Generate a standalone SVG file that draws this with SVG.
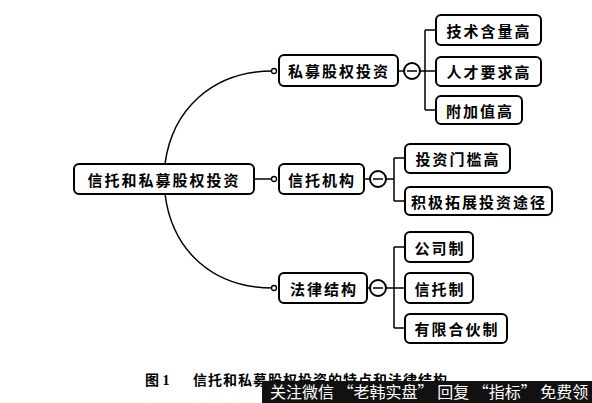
<svg xmlns="http://www.w3.org/2000/svg" width="592" height="403" viewBox="0 0 592 403">
<style>
.box{fill:#fff;stroke:#000;stroke-width:2}
.t{font-family:"Noto Sans CJK SC","Noto Sans CJK JP",sans-serif;font-size:15px;font-weight:bold;fill:#000;letter-spacing:2px;dominant-baseline:central}
.ln{fill:none;stroke:#000;stroke-width:1.5}
.dot{fill:#fff;stroke:#000;stroke-width:1.3}
.col{fill:#fff;stroke:#000;stroke-width:2}
.cap{font-family:"Liberation Serif","Noto Sans CJK SC",serif;font-size:14px;font-weight:bold;fill:#000}
.wm{font-family:"Noto Sans CJK SC",sans-serif;font-size:16px;fill:#fff}
</style>
<rect width="592" height="403" fill="#fff"/>
<g id="connectors">
<path class="ln" d="M165,164 C172,110 212,71 273,71"/>
<path class="ln" d="M165,194 C172,250 212,288 273,288"/>
<path class="ln" d="M254,179 H273"/>
<circle class="dot" cx="274" cy="71" r="2.5"/>
<circle class="dot" cx="274" cy="179" r="2.5"/>
<circle class="dot" cx="274" cy="288" r="2.5"/>
<path class="ln" d="M398,71 H404 M420,71 H425 M425,30 V110 M425,30 H436 M425,71 H436 M425,110 H436"/>
<path class="ln" d="M364,179 H370 M386,179 H394 M394,158 V201 M394,158 H405 M394,201 H405"/>
<path class="ln" d="M367,288 H370 M386,288 H394 M394,247 V328 M394,247 H405 M394,288 H405 M394,328 H405"/>
</g>
<g id="collapse1"><circle class="col" cx="412" cy="71" r="8"/><path class="ln" d="M407,71 H417"/></g>
<g id="collapse2"><circle class="col" cx="378" cy="179" r="8"/><path class="ln" d="M373,179 H383"/></g>
<g id="collapse3"><circle class="col" cx="378" cy="288" r="8"/><path class="ln" d="M373,288 H383"/></g>
<g id="root"><rect class="box" x="74" y="164" width="180" height="30" rx="5"/><text class="t" x="164" y="179" text-anchor="middle">信托和私募股权投资</text></g>
<g id="n1"><rect class="box" x="279" y="55" width="119" height="31" rx="5"/><text class="t" x="339" y="70.5" text-anchor="middle">私募股权投资</text></g>
<g id="n2"><rect class="box" x="279" y="164" width="85" height="30" rx="5"/><text class="t" x="322" y="179" text-anchor="middle">信托机构</text></g>
<g id="n3"><rect class="box" x="279" y="273" width="88" height="30" rx="5"/><text class="t" x="324" y="288" text-anchor="middle">法律结构</text></g>
<g id="c11"><rect class="box" x="436" y="15" width="105" height="30" rx="5"/><text class="t" x="489" y="30" text-anchor="middle">技术含量高</text></g>
<g id="c12"><rect class="box" x="436" y="57" width="105" height="29" rx="5"/><text class="t" x="489" y="71.5" text-anchor="middle">人才要求高</text></g>
<g id="c13"><rect class="box" x="436" y="96" width="86" height="28" rx="5"/><text class="t" x="480" y="110" text-anchor="middle">附加值高</text></g>
<g id="c21"><rect class="box" x="405" y="144" width="105" height="29" rx="5"/><text class="t" x="458" y="158.5" text-anchor="middle">投资门槛高</text></g>
<g id="c22"><rect class="box" x="405" y="187" width="147" height="28" rx="5"/><text class="t" x="479" y="201" text-anchor="middle">积极拓展投资途径</text></g>
<g id="c31"><rect class="box" x="405" y="232" width="68" height="30" rx="5"/><text class="t" x="440" y="247" text-anchor="middle">公司制</text></g>
<g id="c32"><rect class="box" x="405" y="273" width="68" height="30" rx="5"/><text class="t" x="440" y="288" text-anchor="middle">信托制</text></g>
<g id="c33"><rect class="box" x="405" y="314" width="102" height="29" rx="5"/><text class="t" x="457" y="328.5" text-anchor="middle">有限合伙制</text></g>
<text class="cap" x="145" y="385">图 1</text>
<text class="cap" x="193" y="385" letter-spacing="1">信托和私募股权投资的特点和法律结构</text>
<rect x="262" y="381" width="330" height="22" fill="#111"/>
<text class="wm" x="270" y="398">关注微信 “老韩实盘” 回复 “指标” 免费领</text>
</svg>
